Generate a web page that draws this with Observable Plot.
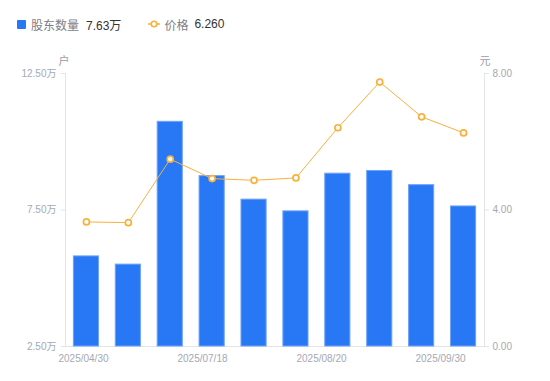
<!DOCTYPE html>
<html><head><meta charset="utf-8">
<script src="https://cdn.jsdelivr.net/npm/d3@7"></script>
<script src="https://cdn.jsdelivr.net/npm/@observablehq/plot@0.6"></script>
<style>
body{margin:0;background:#fff;font-family:"Liberation Sans",Arial,"Noto Sans CJK SC",sans-serif;}
#wrap{position:relative;width:550px;height:381px;overflow:hidden;}
#legend{position:absolute;left:17px;top:16px;height:16px;display:flex;align-items:center;font-size:12px;white-space:nowrap;}
#legend .sq{width:9px;height:9px;background:#2878f5;border-radius:1px;margin-right:5px;}
#legend .lab{color:#7b7e88;}
#legend .val{color:#333;}
#main{position:absolute;left:0;top:40px;}
#xaxis{position:absolute;left:0;top:40px;}
</style></head>
<body>
<div id="wrap">
  <div id="legend"></div>
  <div id="main"></div>
  <div id="xaxis"></div>
</div>
<script>
// ---- data ----
const periods = ["P01","P02","P03","P04","P05","P06","P07","P08","P09","P10"];
const holders = [5.80, 5.50, 10.73, 8.74, 7.88, 7.45, 8.83, 8.93, 8.41, 7.63]; // 万户
const prices  = [3.65, 3.63, 5.49, 4.92, 4.87, 4.94, 6.41, 7.75, 6.73, 6.26]; // 元
const xTickLabels = ["2025/04/30", "2025/07/18", "2025/08/20", "2025/09/30"];
const leftTicks = [2.5, 7.5, 12.5];
const rightTicks = [0, 4, 8];
const seriesNames = ["股东数量", "价格"];
const legendValues = ["7.63万", "6.260"];

const blue = "#2878f5", orange = "#f9b03d", axisGray = "#e3e4e8", textGray = "#a5a8b4";

// legend
const lg = document.getElementById("legend");
lg.innerHTML =
  `<span class="sq"></span><span class="lab">${seriesNames[0]}</span><span class="val" style="margin-left:7px;margin-right:27px">${legendValues[0]}</span>` +
  `<svg width="12" height="10" style="margin-right:4px"><line x1="0" x2="12" y1="5" y2="5" stroke="${orange}" stroke-width="1.5"/><circle cx="6" cy="5" r="2.8" fill="#fff" stroke="${orange}" stroke-width="1.6"/></svg>` +
  `<span class="lab">${seriesNames[1]}</span><span class="val" style="margin-left:6px">${legendValues[1]}</span>`;

const data = periods.map((p, i) => ({period: p, holders: holders[i], price: prices[i]}));
const yMin = 2.5, yMax = 12.5, pMax = 8;
const toY = p => yMin + p * (yMax - yMin) / pMax;
const fromY = y => (y - yMin) * pMax / (yMax - yMin);

const W = 550, H = 341, MT = 33, MB = 35, ML = 65, MR = 66;
const font = `"Liberation Sans",Arial,"Noto Sans CJK SC",sans-serif`;

const main = Plot.plot({
  width: W, height: H, marginTop: MT, marginBottom: MB, marginLeft: ML, marginRight: MR,
  style: {fontFamily: font, fontSize: "10px", color: textGray, background: "transparent"},
  x: {type: "band", domain: periods, paddingInner: 0.4, paddingOuter: 0.2, round: false, axis: null},
  y: {domain: [yMin, yMax], axis: null},
  marks: [
    Plot.frame({anchor: "left", stroke: axisGray}),
    Plot.frame({anchor: "right", stroke: axisGray}),
    Plot.frame({anchor: "bottom", stroke: axisGray}),
    Plot.axisY(leftTicks, {anchor: "left", tickSize: 4, tickPadding: 5, stroke: axisGray, fill: textGray,
      tickFormat: d => d.toFixed(2) + "万", label: null}),
    Plot.axisY(rightTicks.map(toY), {anchor: "right", tickSize: 4, tickPadding: 4, stroke: axisGray, fill: textGray,
      tickFormat: d => fromY(d).toFixed(2), label: null}),
    Plot.barY(data, {x: "period", y1: yMin, y2: "holders", fill: blue, stroke: "#6fa3f8", strokeWidth: 1}),
    Plot.line(data, {x: "period", y: d => toY(d.price), stroke: orange, strokeWidth: 1}),
    Plot.dot(data, {x: "period", y: d => toY(d.price), r: 3, fill: "#fff", stroke: orange, strokeWidth: 1.7}),
    Plot.text(["户"], {frameAnchor: "top-left", dx: -7, dy: -16, fill: "#9a9da8", fontSize: 11}),
    Plot.text(["元"], {frameAnchor: "top-right", dx: 6, dy: -16, fill: "#9a9da8", fontSize: 11})
  ]
});
document.getElementById("main").appendChild(main);

const xax = Plot.plot({
  width: W, height: H, marginTop: MT, marginBottom: MB, marginLeft: 0, marginRight: 0,
  style: {fontFamily: font, fontSize: "10px", color: textGray, background: "transparent"},
  x: {type: "point", domain: xTickLabels, range: [82, 440], padding: 0, axis: null},
  marks: [
    Plot.axisX({anchor: "bottom", tickSize: 0, tickPadding: 8, fill: textGray, label: null})
  ]
});
document.getElementById("xaxis").appendChild(xax);
</script>
</body></html>
